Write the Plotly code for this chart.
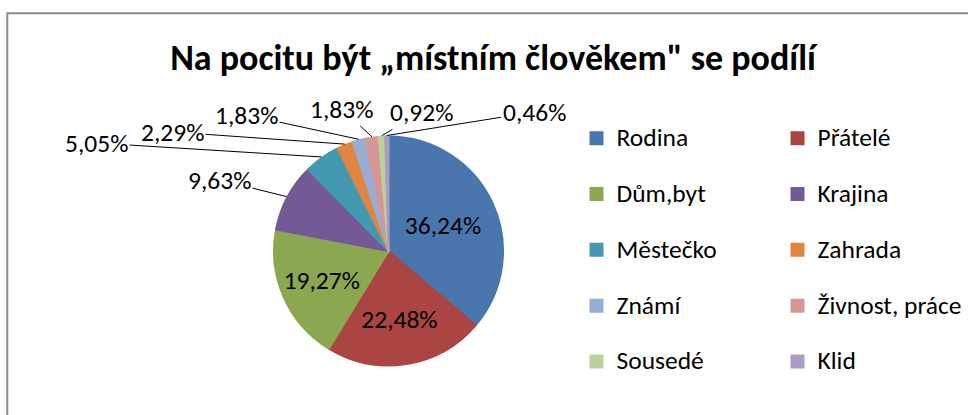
import math
import plotly.graph_objects as go

# ---------------- data ----------------
categories = ["Rodina", "Přátelé", "Dům,byt", "Krajina", "Městečko",
              "Zahrada", "Známí", "Živnost, práce", "Sousedé", "Klid"]
values = [36.24, 22.48, 19.27, 9.63, 5.05, 2.29, 1.83, 1.83, 0.92, 0.46]
title_text = "Na pocitu být „místním člověkem\" se podílí"

# ---------------- style / layout ----------------
colors = ["#4A76AE", "#AB4543", "#8BA850", "#735A96", "#4399B2",
          "#E0853F", "#94AED6", "#D69695", "#BBD19B", "#A99BC1"]
FONT = "Carlito, Calibri, 'Open Sans', sans-serif"
LABEL_SIZE = 25.5
LEGEND_TEXT_SIZE = 25.5
W, H = 968, 415
MARGIN_R = 393
PLOT_W = W - MARGIN_R
CX, CY, R = 388.5, 251.0, 115.5          # pie centre / radius in pixels
N_INSIDE = 3                              # slices labelled inside
# pixel centres of the outside labels (by slice index)
outside_label_pos = {3: (219.5, 180), 4: (96.5, 143), 5: (172.5, 132),
                     6: (246.5, 115), 7: (341.5, 109), 8: (421.5, 112.5),
                     9: (534.0, 112)}

def pct_text(v):
    return f"{v:.2f}".replace(".", ",") + "%"

legend_labels = [f'<span style="font-size:{LEGEND_TEXT_SIZE}px">{c}</span><br> '
                 for c in categories]
texttemplates = ["%{percent:.2%}" if i < N_INSIDE else "" for i in range(len(values))]

fig = go.Figure(go.Pie(
    labels=legend_labels,
    values=values,
    sort=False,
    direction="clockwise",
    rotation=0,
    marker=dict(colors=colors, line=dict(width=2, color=colors)),
    texttemplate=texttemplates,
    textposition="inside",
    insidetextorientation="horizontal",
    insidetextfont=dict(size=LABEL_SIZE, family=FONT, color="black"),
    domain=dict(x=[(CX - R + 1) / PLOT_W, (CX + R - 1) / PLOT_W],
                y=[(H - CY - R + 1) / H, (H - CY + R - 1) / H]),
    hoverinfo="label+percent",
))

# outside labels with leader lines, anchored at each slice's mid-angle
annotations = []
total = sum(values)
cum = 0.0
for i, v in enumerate(values):
    mid = (cum + v / 2) / total * 2 * math.pi
    cum += v
    if i not in outside_label_pos:
        continue
    hx = CX + R * math.sin(mid)
    hy = CY - R * math.cos(mid)
    lx, ly = outside_label_pos[i]
    annotations.append(dict(
        x=hx / PLOT_W, y=(H - hy) / H, xref="paper", yref="paper",
        ax=lx - hx, ay=ly - hy, axref="pixel", ayref="pixel",
        text=pct_text(v), showarrow=True, arrowhead=0, arrowwidth=1,
        arrowcolor="black", standoff=0, xanchor="center", yanchor="middle",
        font=dict(size=LABEL_SIZE, family=FONT, color="black"),
    ))

fig.update_layout(
    width=W, height=H,
    paper_bgcolor="white", plot_bgcolor="white",
    margin=dict(l=0, r=MARGIN_R, t=0, b=0, autoexpand=False),
    separators=", ",
    title=dict(text=title_text, x=493 / W, xanchor="center",
               y=1 - 57 / H, yanchor="middle",
               font=dict(size=36, family=FONT, color="black", weight="bold")),
    showlegend=True,
    legend=dict(orientation="h", x=1.0 + 1.5 / PLOT_W, xanchor="left",
                y=(H - 118.6) / H, yanchor="top",
                entrywidth=156, entrywidthmode="pixels", valign="top",
                maxheight=1, bgcolor="rgba(0,0,0,0)", borderwidth=0,
                font=dict(size=20.3, family=FONT, color="black"),
                traceorder="normal"),
    annotations=annotations,
    shapes=[dict(type="rect", xref="paper", yref="paper",
                 x0=7.3 / PLOT_W, x1=2.0, y0=-0.2, y1=(H - 13.3) / H,
                 line=dict(color="#8A8A8A", width=2), layer="below")],
)

fig.write_html("out.html", config={"displayModeBar": False},
               post_script="document.body.style.margin='0px';")
